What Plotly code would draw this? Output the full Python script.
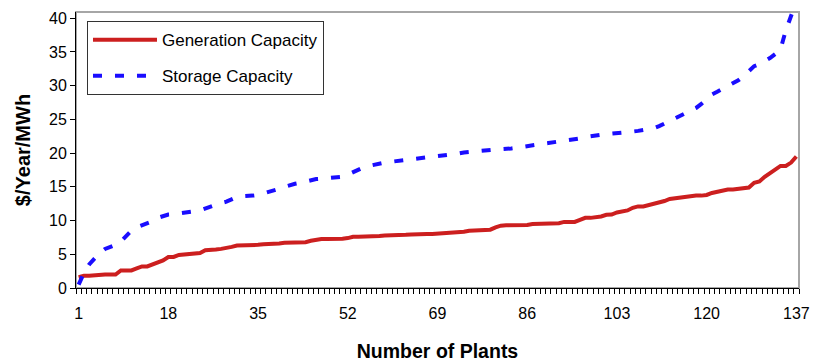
import plotly.graph_objects as go

plants = list(range(1, 138))

generation_capacity = [
    1.6, 1.8, 1.8, 1.9, 2.0, 2.0, 2.0, 2.0, 2.6, 2.6,
    2.6, 2.9, 3.2, 3.2, 3.5, 3.8, 4.1, 4.6, 4.6, 4.9,
    5.0, 5.1, 5.2, 5.2, 5.6, 5.6, 5.7, 5.8, 5.9, 6.1,
    6.3, 6.3, 6.3, 6.3, 6.4, 6.5, 6.5, 6.6, 6.6, 6.7,
    6.75, 6.8, 6.8, 6.8, 7.0, 7.2, 7.25, 7.25, 7.25, 7.25,
    7.3, 7.4, 7.6, 7.6, 7.6, 7.6, 7.65, 7.7, 7.8, 7.8,
    7.85, 7.9, 7.9, 7.95, 8.0, 8.0, 8.0, 8.0, 8.05, 8.1,
    8.15, 8.2, 8.2, 8.35, 8.5, 8.55, 8.6, 8.6, 8.65, 9.0,
    9.25, 9.3, 9.3, 9.3, 9.3, 9.35, 9.5, 9.5, 9.5, 9.5,
    9.5, 9.6, 9.8, 9.8, 9.8, 10.1, 10.4, 10.4, 10.5, 10.6,
    10.85, 10.9, 11.2, 11.4, 11.5, 11.9, 12.1, 12.1, 12.3, 12.4,
    12.6, 12.9, 13.2, 13.3, 13.4, 13.6, 13.7, 13.7, 13.7, 13.8,
    14.1, 14.3, 14.4, 14.6, 14.6, 14.7, 14.8, 14.9, 15.6, 15.8,
    16.5, 17.0, 17.6, 18.1, 18.1, 18.6, 19.5,
]

storage_capacity = [
    0.5, 2.2, 3.5, 4.4, 5.2, 5.8, 6.1, 6.4, 6.9, 7.7,
    8.5, 9.0, 9.3, 9.7, 9.9, 10.4, 10.7, 10.9, 10.95, 11.1,
    11.2, 11.3, 11.4, 11.5, 11.8, 12.1, 12.4, 12.6, 12.8, 13.2,
    13.5, 13.6, 13.6, 13.7, 13.8, 14.0, 14.2, 14.4, 14.7, 15.0,
    15.3, 15.45, 15.6, 15.8, 16.0, 16.15, 16.2, 16.3, 16.35, 16.4,
    16.5, 16.8, 17.2, 17.6, 17.9, 18.1, 18.3, 18.5, 18.6, 18.7,
    18.8, 18.9, 18.95, 19.0, 19.1, 19.2, 19.25, 19.35, 19.45, 19.55,
    19.7, 19.85, 19.95, 20.1, 20.2, 20.3, 20.4, 20.45, 20.5, 20.55,
    20.6, 20.6, 20.7, 20.8, 20.95, 21.05, 21.15, 21.25, 21.4, 21.5,
    21.6, 21.7, 21.8, 21.9, 22.0, 22.15, 22.3, 22.5, 22.65, 22.8,
    22.85, 22.9, 22.95, 23.0, 23.1, 23.2, 23.3, 23.45, 23.55, 23.7,
    24.0, 24.4, 24.8, 25.2, 25.6, 26.0, 26.3, 26.7, 27.3, 28.0,
    28.7, 29.1, 29.5, 29.9, 30.4, 30.8, 31.4, 32.2, 32.9, 33.2,
    33.6, 34.1, 34.7, 35.4, 38.2, 40.6, 42.5,
]

x_tick_labels = [1, 18, 35, 52, 69, 86, 103, 120, 137]
y_tick_values = [0, 5, 10, 15, 20, 25, 30, 35, 40]

FONT = "Arial, 'Liberation Sans', sans-serif"

fig = go.Figure()
fig.add_trace(go.Scatter(
    x=plants, y=generation_capacity, mode="lines", name="Generation Capacity",
    legendgroup="g", line=dict(color="#cc1f1f", width=4),
))
fig.add_trace(go.Scatter(
    x=plants, y=storage_capacity, mode="lines", name="Storage Capacity",
    legendgroup="s", line=dict(color="#1a0dff", width=4, dash="9px,13px"),
))

fig.update_layout(
    width=813, height=362,
    margin=dict(l=76, r=14, t=12, b=74),
    paper_bgcolor="white", plot_bgcolor="white",
    font=dict(family=FONT, color="black", size=15),
    showlegend=True,
    legend=dict(
        x=0.0152, y=0.967, xanchor="left", yanchor="top",
        bordercolor="#333333", borderwidth=1, bgcolor="white",
        font=dict(size=17, family=FONT), tracegroupgap=11,
        traceorder="grouped", itemwidth=64,
    ),
    xaxis=dict(
        range=[0.5, 137.5], tickmode="array", tickvals=x_tick_labels,
        ticktext=[str(v) for v in x_tick_labels], ticks="", automargin=False,
        showgrid=False, zeroline=False, showline=True, linecolor="black", linewidth=1,
        tickfont=dict(size=16), ticklabelstandoff=11,
        minor=dict(ticks="outside", tick0=0.5, dtick=1, ticklen=5, tickcolor="black", tickwidth=1, showgrid=False),
        title=dict(text="<b>Number of Plants</b>", font=dict(size=19.5), standoff=24),
    ),
    yaxis=dict(
        range=[0, 40.93], tickmode="array", tickvals=y_tick_values, automargin=False,
        ticks="outside", ticklen=5, tickcolor="black",
        showgrid=False, zeroline=False, showline=True, linecolor="black", linewidth=1,
        tickfont=dict(size=16),
        title=dict(text="<b>$/Year/MWh</b>", font=dict(size=20), standoff=13),
    ),
    shapes=[dict(type="rect", xref="paper", yref="paper", x0=0, x1=1, y0=0, y1=1,
                 line=dict(color="#a6a6a6", width=2), layer="below")],
)

fig.write_html("out.html")
